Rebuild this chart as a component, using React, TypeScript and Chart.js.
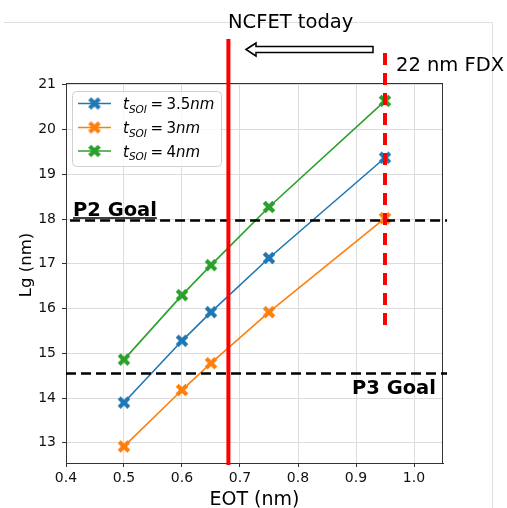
import React, { useEffect, useRef } from "react";
import { Chart, registerables } from "chart.js";

Chart.register(...registerables);

const eotValues = [0.5, 0.6, 0.65, 0.75, 0.95];
const lgT35 = [13.9, 15.28, 15.92, 17.13, 19.37];
const lgT3 = [12.92, 14.18, 14.78, 15.92, 18.02];
const lgT4 = [14.86, 16.3, 16.97, 18.27, 20.64];
const seriesValues = ["3.5", "3", "4"];
const seriesColors = ["#1f77b4", "#ff7f0e", "#2ca02c"];
const xTicks = [0.4, 0.5, 0.6, 0.7, 0.8, 0.9, 1.0];
const yTicks = [13, 14, 15, 16, 17, 18, 19, 20, 21];
const p2Goal = 17.97;
const p3Goal = 14.55;
const ncfetEOT = 0.68;
const fdxEOT = 0.95;

const FONT = "'DejaVu Sans', Verdana, sans-serif";

function makeMarker(color: string): HTMLCanvasElement {
  const c = document.createElement("canvas");
  c.width = 14;
  c.height = 14;
  const g = c.getContext("2d")!;
  g.strokeStyle = color;
  g.lineWidth = 4.2;
  g.lineCap = "butt";
  g.beginPath();
  g.moveTo(2.2, 2.2);
  g.lineTo(11.8, 11.8);
  g.moveTo(11.8, 2.2);
  g.lineTo(2.2, 11.8);
  g.stroke();
  return c;
}

export default function App() {
  const ref = useRef<HTMLCanvasElement | null>(null);

  useEffect(() => {
    if (!ref.current) return;
    const markers = seriesColors.map(makeMarker);
    const series = [lgT35, lgT3, lgT4];

    const overlay = {
      id: "overlay",
      beforeDraw(chart: any) {
        const { ctx } = chart;
        ctx.save();
        ctx.strokeStyle = "#e0e0e0";
        ctx.lineWidth = 1;
        ctx.beginPath();
        ctx.moveTo(4, 22.5);
        ctx.lineTo(492.5, 22.5);
        ctx.lineTo(492.5, 508);
        ctx.stroke();
        ctx.restore();
      },
      afterDraw(chart: any) {
        const { ctx, chartArea: a, scales } = chart;
        const xs = scales.x;
        const ys = scales.y;
        ctx.save();

        // top & right spines
        ctx.strokeStyle = "#333";
        ctx.lineWidth = 1;
        ctx.beginPath();
        ctx.moveTo(a.left, a.top + 0.5);
        ctx.lineTo(a.right, a.top + 0.5);
        ctx.moveTo(a.right - 0.5, a.top);
        ctx.lineTo(a.right - 0.5, a.bottom);
        ctx.stroke();

        // goal lines (dashed black)
        ctx.strokeStyle = "#000";
        ctx.lineWidth = 2.5;
        ctx.setLineDash([10, 5]);
        const yP2 = ys.getPixelForValue(p2Goal);
        ctx.beginPath();
        ctx.moveTo(xs.getPixelForValue(0.407), yP2);
        ctx.lineTo(xs.getPixelForValue(1.057), yP2);
        ctx.stroke();
        const yP3 = ys.getPixelForValue(p3Goal);
        ctx.beginPath();
        ctx.moveTo(xs.getPixelForValue(0.4), yP3);
        ctx.lineTo(xs.getPixelForValue(1.057), yP3);
        ctx.stroke();

        // red solid line NCFET today
        ctx.setLineDash([]);
        ctx.strokeStyle = "#ff0000";
        ctx.lineWidth = 4;
        const xN = xs.getPixelForValue(ncfetEOT);
        ctx.beginPath();
        ctx.moveTo(xN, 39);
        ctx.lineTo(xN, a.bottom + 2);
        ctx.stroke();

        // red dashed line 22nm FDX
        ctx.setLineDash([12, 8]);
        const xF = xs.getPixelForValue(fdxEOT);
        ctx.beginPath();
        ctx.moveTo(xF, 53);
        ctx.lineTo(xF, ys.getPixelForValue(15.55));
        ctx.stroke();
        ctx.setLineDash([]);

        // arrow
        ctx.fillStyle = "#fff";
        ctx.strokeStyle = "#000";
        ctx.lineWidth = 1.5;
        ctx.beginPath();
        ctx.moveTo(246, 49.5);
        ctx.lineTo(256, 43);
        ctx.lineTo(256, 46.5);
        ctx.lineTo(373, 46.5);
        ctx.lineTo(373, 52.5);
        ctx.lineTo(256, 52.5);
        ctx.lineTo(256, 56);
        ctx.closePath();
        ctx.fill();
        ctx.stroke();

        // texts
        ctx.fillStyle = "#000";
        ctx.textAlign = "left";
        ctx.textBaseline = "alphabetic";
        ctx.font = `19.5px ${FONT}`;
        ctx.fillText("NCFET today", 228, 27.5);
        ctx.fillText("22 nm FDX", 396, 70.5);

        ctx.font = `bold 19.5px ${FONT}`;
        ctx.fillText("P2 Goal", 73, 216);
        const w2 = ctx.measureText("P2 Goal").width;
        ctx.lineWidth = 1.5;
        ctx.beginPath();
        ctx.moveTo(73, 218);
        ctx.lineTo(73 + w2, 218);
        ctx.stroke();
        ctx.fillText("P3 Goal", 352, 394);

        // axis titles
        ctx.font = `19px ${FONT}`;
        ctx.textAlign = "center";
        ctx.fillText("EOT (nm)", (a.left + a.right) / 2, 505);
        ctx.save();
        ctx.translate(30.5, 265);
        ctx.rotate(-Math.PI / 2);
        ctx.font = `16.5px ${FONT}`;
        ctx.fillText("Lg (nm)", 0, 0);
        ctx.restore();

        // legend
        ctx.textAlign = "left";
        ctx.fillStyle = "rgba(255,255,255,0.8)";
        ctx.strokeStyle = "#d0d0d0";
        ctx.lineWidth = 1;
        ctx.beginPath();
        (ctx as any).roundRect(72.5, 91.5, 149, 75, 4);
        ctx.fill();
        ctx.stroke();
        const rows = [103.5, 127.5, 151];
        rows.forEach((ry, i) => {
          ctx.strokeStyle = seriesColors[i];
          ctx.lineWidth = 1.6;
          ctx.beginPath();
          ctx.moveTo(78, ry);
          ctx.lineTo(111, ry);
          ctx.stroke();
          ctx.drawImage(markers[i], 94.5 - 7, ry - 7);
          let tx = 123;
          const base = ry + 5.5;
          ctx.fillStyle = "#000";
          ctx.font = `italic 15px ${FONT}`;
          ctx.fillText("t", tx, base);
          tx += ctx.measureText("t").width;
          ctx.font = `italic 10.5px ${FONT}`;
          ctx.fillText("SOI", tx, base + 3.5);
          tx += ctx.measureText("SOI").width + 3.5;
          ctx.font = `15px ${FONT}`;
          ctx.fillText("=", tx, base);
          tx += ctx.measureText("=").width + 3.5;
          ctx.fillText(seriesValues[i], tx, base);
          tx += ctx.measureText(seriesValues[i]).width;
          ctx.font = `italic 15px ${FONT}`;
          ctx.fillText("nm", tx, base);
        });

        ctx.restore();
      },
    };

    const chart = new Chart(ref.current, {
      type: "line",
      data: {
        datasets: series.map((vals, i) => ({
          label: "t_SOI = " + seriesValues[i] + "nm",
          data: eotValues.map((x, k) => ({ x, y: vals[k] })),
          borderColor: seriesColors[i],
          backgroundColor: seriesColors[i],
          borderWidth: 1.6,
          pointStyle: markers[i] as any,
          pointRadius: 6,
          tension: 0,
          fill: false,
        })),
      },
      options: {
        animation: false,
        responsive: false,
        devicePixelRatio: 1,
        layout: { padding: { left: 0, right: 64, top: 83, bottom: 0 } },
        plugins: { legend: { display: false }, tooltip: { enabled: false } },
        scales: {
          x: {
            type: "linear",
            min: 0.4,
            max: 1.05,
            afterBuildTicks: (s: any) => {
              s.ticks = xTicks.map((v) => ({ value: v }));
            },
            afterFit: (s: any) => {
              s.height = 45;
            },
            ticks: {
              callback: (v: any) => Number(v).toFixed(1),
              font: { family: FONT, size: 14 },
              color: "#111",
              padding: 3,
              maxRotation: 0,
            },
            grid: { color: "#dcdcdc", lineWidth: 1, tickColor: "#333", tickLength: 4, drawTicks: true },
            border: { display: true, color: "#333", width: 1 },
          },
          y: {
            type: "linear",
            min: 12.55,
            max: 21.04,
            afterBuildTicks: (s: any) => {
              s.ticks = yTicks.map((v) => ({ value: v }));
            },
            afterFit: (s: any) => {
              s.width = 66;
            },
            ticks: {
              callback: (v: any) => String(v),
              font: { family: FONT, size: 14 },
              color: "#111",
              padding: 6,
            },
            grid: { color: "#dcdcdc", lineWidth: 1, tickColor: "#333", tickLength: 4, drawTicks: true },
            border: { display: true, color: "#333", width: 1 },
          },
        },
      },
      plugins: [overlay],
    });
    return () => chart.destroy();
  }, []);

  return (
    <div style={{ position: "absolute", left: 0, top: 0, width: 507, height: 508, background: "#fff" }}>
      <canvas ref={ref} width={507} height={508} style={{ display: "block", width: 507, height: 508 }} />
    </div>
  );
}
